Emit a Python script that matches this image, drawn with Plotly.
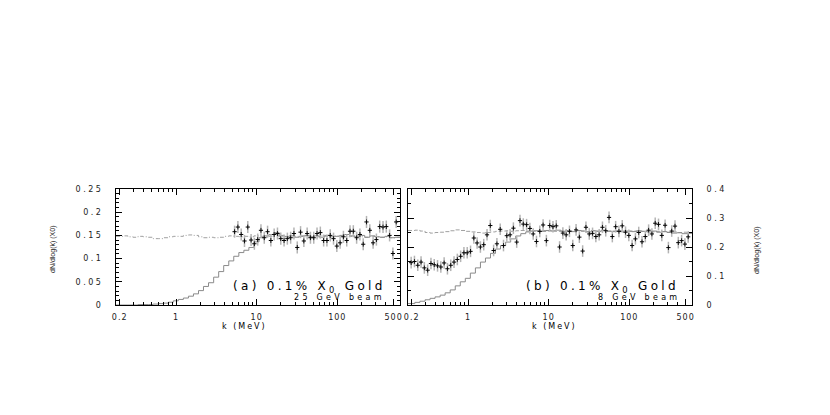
import math
import plotly.graph_objects as go

# ---------------- data ----------------
# bin centres of the measured points (MeV)
K_CENTERS = [0.197, 0.2164, 0.2378, 0.2613, 0.2871, 0.3155, 0.3467, 0.3809, 0.4185, 0.4599,
             0.5053, 0.5553, 0.6101, 0.6704, 0.7366, 0.8094, 0.8893, 0.9770, 1.074, 1.180,
             1.296, 1.424, 1.565, 1.720, 1.889, 2.076, 2.281, 2.506, 2.754, 3.026,
             3.325, 3.653, 4.014, 4.410, 4.846, 5.325, 5.851, 6.429, 7.063, 7.761,
             8.530, 9.372, 10.30, 11.31, 12.43, 13.66, 15.01, 16.49, 18.12, 19.91,
             21.88, 24.04, 26.41, 29.02, 31.89, 35.04, 38.50, 42.30, 46.48, 51.07,
             56.11, 61.66, 67.75, 74.44, 81.80, 89.87, 98.74, 108.5, 119.2, 131.0,
             143.9, 158.2, 173.8, 190.9, 209.8, 230.5, 253.3, 278.3, 305.8, 336.0,
             369.3, 405.7, 445.8, 489.8, 538.2]
K_A = K_CENTERS[35:]

# (a) 25 GeV beam, measured points
Y_A = [0.158, 0.168, 0.152, 0.138, 0.168, 0.140, 0.132, 0.141, 0.161, 0.145,
       0.158, 0.139, 0.152, 0.154, 0.143, 0.139, 0.143, 0.145, 0.154, 0.124,
       0.157, 0.138, 0.154, 0.145, 0.145, 0.154, 0.156, 0.139, 0.139, 0.150,
       0.143, 0.127, 0.134, 0.147, 0.139, 0.159, 0.159, 0.145, 0.152, 0.131,
       0.179, 0.161, 0.134, 0.141, 0.169, 0.168, 0.169, 0.150, 0.111, 0.179]
ERR_A = 0.013

# (b) 8 GeV beam, measured points
Y_B = [0.146, 0.150, 0.137, 0.148, 0.128, 0.120, 0.143, 0.139, 0.135, 0.131,
       0.145, 0.125, 0.137, 0.148, 0.157, 0.168, 0.180, 0.180, 0.185, 0.231,
       0.214, 0.200, 0.208, 0.242, 0.274, 0.188, 0.211, 0.261, 0.205, 0.239,
       0.242, 0.265, 0.217, 0.291, 0.279, 0.277, 0.264, 0.245, 0.219, 0.254,
       0.276, 0.222, 0.274, 0.270, 0.273, 0.200, 0.248, 0.242, 0.254, 0.205,
       0.259, 0.234, 0.186, 0.268, 0.245, 0.247, 0.236, 0.242, 0.268, 0.256,
       0.302, 0.236, 0.270, 0.254, 0.273, 0.251, 0.240, 0.205, 0.228, 0.250,
       0.218, 0.236, 0.258, 0.245, 0.282, 0.278, 0.240, 0.275, 0.198, 0.255,
       0.272, 0.215, 0.222, 0.210, 0.235]
ERR_B = 0.020

# histogram bin edges of the simulation curves (MeV)
EDGES = [0.18, 0.219, 0.253, 0.293, 0.338, 0.390, 0.451, 0.520, 0.601, 0.694,
         0.801, 0.925, 1.068, 1.234, 1.425, 1.645, 1.90, 2.19, 2.53, 2.93,
         3.38, 3.90, 4.51, 5.20, 6.01, 6.94, 8.01, 9.25, 10.7, 12.3,
         14.2, 16.4, 19.0, 21.9, 25.3, 29.3, 33.8, 39.0, 45.1, 52.0,
         60.1, 69.4, 80.1, 92.5, 107, 123, 142, 164, 190, 219,
         253, 293, 338, 390, 451, 520, 620]

# (a) solid histogram and dash-dot line
SIM_A = [0, 0, 0, 0, 0.001, 0.001, 0.001, 0.002, 0.003, 0.004,
         0.006, 0.009, 0.012, 0.015, 0.019, 0.024, 0.031, 0.040, 0.048, 0.060,
         0.072, 0.085, 0.095, 0.105, 0.113, 0.118, 0.124, 0.136, 0.145, 0.149,
         0.152, 0.156, 0.150, 0.147, 0.149, 0.146, 0.148, 0.150, 0.147, 0.149,
         0.146, 0.150, 0.147, 0.148, 0.150, 0.152, 0.149, 0.147, 0.150, 0.146,
         0.149, 0.147, 0.146, 0.148, 0.145, 0.146]
REF_A = [0.148, 0.149, 0.147, 0.146, 0.148, 0.147, 0.146, 0.143, 0.143, 0.145,
         0.147, 0.148, 0.148, 0.150, 0.151, 0.150, 0.147, 0.145, 0.146, 0.145,
         0.146, 0.148, 0.149, 0.148, 0.147, 0.148, 0.147, 0.149, 0.148, 0.147,
         0.148, 0.149, 0.147, 0.148, 0.146, 0.148, 0.149, 0.147, 0.148, 0.147,
         0.149, 0.148, 0.147, 0.149, 0.148, 0.147, 0.148, 0.149, 0.147, 0.146,
         0.148, 0.147, 0.146, 0.147, 0.145, 0.146]

# (b) solid histogram and dashed line
SIM_B = [0.005, 0.009, 0.013, 0.018, 0.023, 0.028, 0.034, 0.042, 0.052, 0.066,
         0.080, 0.092, 0.110, 0.128, 0.148, 0.162, 0.178, 0.193, 0.205, 0.217,
         0.228, 0.238, 0.246, 0.252, 0.255, 0.256, 0.254, 0.257, 0.255, 0.258,
         0.254, 0.256, 0.253, 0.257, 0.255, 0.252, 0.256, 0.254, 0.258, 0.255,
         0.253, 0.256, 0.252, 0.255, 0.253, 0.256, 0.254, 0.252, 0.255, 0.251,
         0.253, 0.250, 0.248, 0.249, 0.246, 0.247]
REF_B = [0.257, 0.258, 0.255, 0.250, 0.248, 0.250, 0.251, 0.253, 0.256, 0.259,
         0.257, 0.254, 0.252, 0.250, 0.248, 0.250, 0.252, 0.254, 0.255, 0.256,
         0.254, 0.256, 0.257, 0.255, 0.256, 0.254, 0.257, 0.255, 0.256, 0.254,
         0.255, 0.257, 0.254, 0.256, 0.255, 0.253, 0.256, 0.255, 0.257, 0.254,
         0.255, 0.253, 0.256, 0.254, 0.255, 0.253, 0.254, 0.255, 0.252, 0.254,
         0.253, 0.251, 0.252, 0.250, 0.251, 0.250]

X_TICKS = [0.2, 1, 10, 100, 500]
X_TICK_TEXT = ["0.2", "1", "10", "100", "500"]
Y_TICKS_A = [0, 0.05, 0.1, 0.15, 0.2, 0.25]
Y_TICK_TEXT_A = ["0", "0.05", "0.1", "0.15", "0.2", "0.25"]
Y_TICKS_B = [0, 0.1, 0.2, 0.3, 0.4]
Y_TICK_TEXT_B = ["0", "0.1", "0.2", "0.3", "0.4"]

# ---------------- figure ----------------
W, H = 830, 415
OFF = 8  # page body margin of the browser
FONT = "DejaVu Sans"
GREY_LINE = "#8a8a8a"
GREY_ERR = "#b4b4b4"


def px(x):
    return (x - OFF) / W


def py(y):
    return 1 - (y - OFF) / H


def spaced(t, sp):
    return '<span style="letter-spacing:%.1fpx">%s</span>' % (sp, t)


fig = go.Figure()


def add_panel(xa, ya, k, y, err, sim, ref, ref_dash):
    fig.add_trace(go.Scatter(x=EDGES, y=ref + [ref[-1]], mode="lines", line_shape="hv",
                             line=dict(color="#a0a0a0", width=1, dash=ref_dash),
                             xaxis=xa, yaxis=ya, hoverinfo="skip"))
    fig.add_trace(go.Scatter(x=EDGES, y=sim + [sim[-1]], mode="lines", line_shape="hv",
                             line=dict(color=GREY_LINE, width=1),
                             xaxis=xa, yaxis=ya, hoverinfo="skip"))
    fig.add_trace(go.Scatter(x=k, y=y, mode="markers",
                             marker=dict(size=1, color="rgba(0,0,0,0)"),
                             error_y=dict(type="constant", value=err, color=GREY_ERR,
                                          thickness=1.5, width=0),
                             xaxis=xa, yaxis=ya))
    fig.add_trace(go.Scatter(x=k, y=y, mode="markers",
                             marker=dict(symbol="line-ew", size=3, color="black",
                                         line=dict(color="black", width=1)),
                             error_y=dict(type="constant", value=err * 0.4, color="#111",
                                          thickness=1, width=0),
                             xaxis=xa, yaxis=ya))


add_panel("x", "y", K_A, Y_A, ERR_A, SIM_A, REF_A, "4px,2px,1px,2px")
add_panel("x2", "y2", K_CENTERS, Y_B, ERR_B, SIM_B, REF_B, "4px,2px")

minor_x = [m * 10 ** e for e in (-1, 0, 1, 2) for m in range(2, 10)]
minor_x = [v for v in minor_x if v < 600]

tickfont = dict(family=FONT, size=8, color="#222")
xr = [math.log10(0.18), math.log10(600)]
ybot, ytop = py(305), py(189)

common_x = dict(type="log", range=xr, tickvals=X_TICKS,
                ticktext=[spaced(t, 1.0) for t in X_TICK_TEXT],
                ticks="inside", ticklen=6, tickwidth=1, tickcolor="black",
                showline=True, linecolor="black", linewidth=1, mirror="ticks",
                showgrid=False, zeroline=False, tickfont=tickfont, ticklabelstandoff=4,
                automargin=False,
                minor=dict(tickvals=minor_x, ticks="inside", ticklen=3,
                           tickcolor="black", showgrid=False))
common_y = dict(ticks="inside", ticklen=6, tickwidth=1, tickcolor="black",
                showline=True, linecolor="black", linewidth=1, mirror="ticks",
                showgrid=False, zeroline=False, tickfont=tickfont, automargin=False)

fig.update_layout(
    width=W, height=H, margin=dict(l=0, r=0, t=0, b=0, autoexpand=False),
    paper_bgcolor="white", plot_bgcolor="white", showlegend=False,
    xaxis=dict(domain=[px(116), px(400)], anchor="y", **common_x),
    xaxis2=dict(domain=[px(408), px(692)], anchor="y2", **common_x),
    yaxis=dict(domain=[ybot, ytop], anchor="x", range=[0, 0.25],
               tickvals=Y_TICKS_A, ticktext=[spaced(t, 2.5) for t in Y_TICK_TEXT_A],
               ticklabelstandoff=10,
               minor=dict(dtick=0.01, ticks="inside", ticklen=3, tickcolor="black",
                          showgrid=False),
               **common_y),
    yaxis2=dict(domain=[ybot, ytop], anchor="x2", side="right", range=[0, 0.4],
                tickvals=Y_TICKS_B, ticktext=[spaced(t, 2.5) for t in Y_TICK_TEXT_B],
                ticklabelstandoff=12,
                minor=dict(dtick=0.05, ticks="inside", ticklen=3, tickcolor="black",
                           showgrid=False),
                **common_y),
)

ann_font = dict(family=FONT, size=12, color="black")
sub_font = dict(family=FONT, size=8, color="black")
lab_font = dict(family=FONT, size=8, color="black")
ytl_font = dict(family="Liberation Sans Narrow, Liberation Sans", size=7, color="#222")
anns = [
    dict(text=spaced("(a) 0.1% X<sub>0</sub> Gold", 3.3), x=px(388), y=py(287),
         xanchor="right", yanchor="middle", font=ann_font),
    dict(text=spaced("25 GeV beam", 3.3), x=px(387), y=py(297.5), xanchor="right",
         yanchor="middle", font=sub_font),
    dict(text=spaced("(b) 0.1% X<sub>0</sub> Gold", 3.3), x=px(681), y=py(287),
         xanchor="right", yanchor="middle", font=ann_font),
    dict(text=spaced("8 GeV beam", 3.3), x=px(682), y=py(297.5), xanchor="right",
         yanchor="middle", font=sub_font),
    dict(text=spaced("k (MeV)", 2.0), x=px(244), y=py(326), xanchor="center",
         yanchor="middle", font=lab_font),
    dict(text=spaced("k (MeV)", 2.0), x=px(554), y=py(326), xanchor="center",
         yanchor="middle", font=lab_font),
    dict(text="dN/dlog(k) (X0)", x=px(53), y=py(250), xanchor="center",
         yanchor="middle", textangle=-90, font=ytl_font),
    dict(text="dN/dlog(k) (X0)", x=px(757), y=py(251), xanchor="center",
         yanchor="middle", textangle=-90, font=ytl_font),
]
for a in anns:
    a.update(xref="paper", yref="paper", showarrow=False)
fig.update_layout(annotations=anns)

fig.write_html("out.html")
